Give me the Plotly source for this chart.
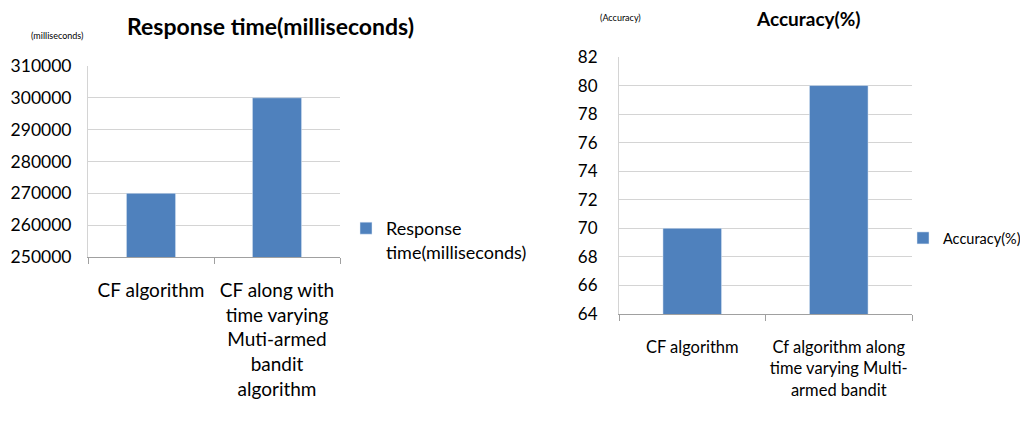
import plotly.graph_objects as go

# Data
rt_categories = ["CF algorithm", "CF along with<br>time varying<br>Muti-armed<br>bandit<br>algorithm"]
rt_values = [270000, 300000]
rt_series = "Response<br>time(milliseconds)"
rt_ticks = [250000, 260000, 270000, 280000, 290000, 300000, 310000]

acc_categories = ["CF algorithm", "Cf algorithm along<br>time varying Multi-<br>armed bandit"]
acc_values = [70, 80]
acc_series = "Accuracy(%)"
acc_ticks = [64, 66, 68, 70, 72, 74, 76, 78, 80, 82]

FONT = "Lato, sans-serif"
BAR = "#4F81BD"
GRID = "#D4D4D4"
AX = "#A0A0A0"
OFF = 8  # page body margin
W, H = 1028 - OFF, 421 - OFF

def px(x):
    return (x - OFF) / W

def py(y):
    return 1 - (y - OFF) / H

fig = go.Figure()
fig.add_trace(go.Bar(x=rt_categories, y=rt_values, name=rt_series, marker_color=BAR,
                     width=0.39, xaxis="x", yaxis="y", legend="legend", showlegend=True))
fig.add_trace(go.Bar(x=acc_categories, y=acc_values, name=acc_series, marker_color=BAR,
                     width=0.40, xaxis="x2", yaxis="y2", legend="legend2", showlegend=True))

common_x = dict(type="category", showline=True, linecolor=AX, linewidth=1, ticks="outside",
                tickson="boundaries", ticklen=6, tickcolor=AX, showgrid=False,
                tickangle=0, automargin=False)
common_y = dict(showline=True, linecolor=GRID, linewidth=1, showgrid=True, gridcolor=GRID,
                gridwidth=1, zeroline=False, ticks="", automargin=False)

fig.update_layout(
    width=W, height=H, margin=dict(l=0, r=0, t=0, b=0, autoexpand=False),
    paper_bgcolor="white", plot_bgcolor="white",
    font=dict(family=FONT, color="#000000"),
    showlegend=True,
    xaxis=dict(domain=[px(88), px(340)], anchor="y", tickfont=dict(size=19),
               ticklabelstandoff=16, **common_x),
    yaxis=dict(domain=[py(257), py(66)], anchor="x", range=[250000, 310000],
               tickvals=rt_ticks, ticktext=[str(v) for v in rt_ticks],
               tickfont=dict(size=17.5), ticklabelstandoff=12, **common_y),
    xaxis2=dict(domain=[px(619), px(912)], anchor="y2", tickfont=dict(size=16.5),
                ticklabelstandoff=18, **common_x),
    yaxis2=dict(domain=[py(314), py(57)], anchor="x2", range=[64, 82],
                tickvals=acc_ticks, tickfont=dict(size=17), ticklabelstandoff=17, **common_y),
    legend=dict(x=px(346), y=py(210), xanchor="left", yanchor="top", valign="top",
                font=dict(size=18), bgcolor="rgba(0,0,0,0)", itemwidth=30),
    legend2=dict(x=px(903), y=py(222), xanchor="left", yanchor="top", valign="top",
                 font=dict(size=14.5), bgcolor="rgba(0,0,0,0)", itemwidth=30),
    annotations=[
        dict(text="<b>Response time(milliseconds)</b>", x=px(270), y=py(26), xref="paper", yref="paper",
             xanchor="center", yanchor="middle", showarrow=False, font=dict(size=23, family=FONT)),
        dict(text="(milliseconds)", x=px(57), y=py(35), xref="paper", yref="paper",
             xanchor="center", yanchor="middle", showarrow=False, font=dict(size=9, family=FONT)),
        dict(text="<b>Accuracy(%)</b>", x=px(808), y=py(18), xref="paper", yref="paper",
             xanchor="center", yanchor="middle", showarrow=False, font=dict(size=19, family=FONT)),
        dict(text="(Accuracy)", x=px(620), y=py(17), xref="paper", yref="paper",
             xanchor="center", yanchor="middle", showarrow=False, font=dict(size=9, family=FONT)),
    ],
)

fig.write_html("out.html")
